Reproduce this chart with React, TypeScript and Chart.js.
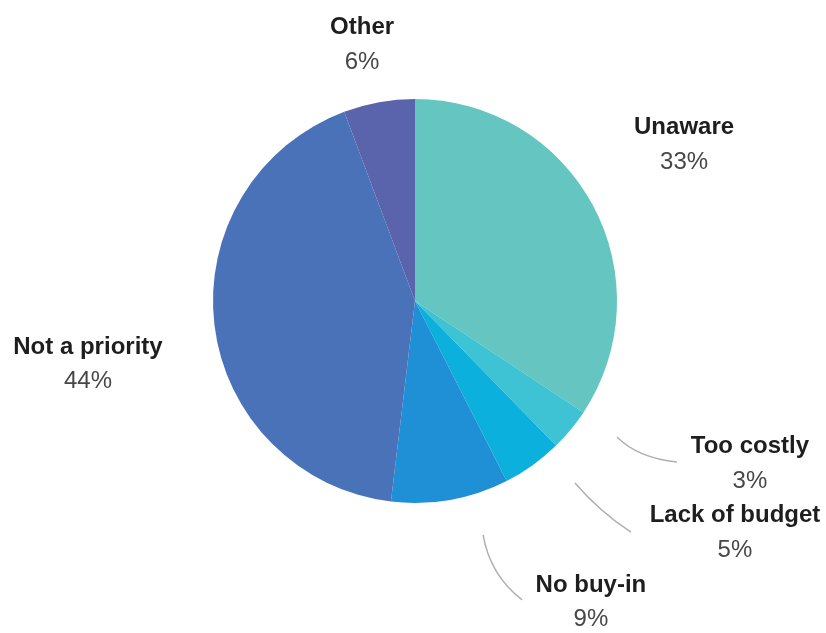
import React, { useEffect, useRef } from "react";
import { Chart, registerables } from "chart.js";

Chart.register(...registerables);

const categories = ["Unaware", "Too costly", "Lack of budget", "No buy-in", "Not a priority", "Other"];
const sliceValues = [34.3, 3.4, 4.8, 9.4, 42.4, 5.7];
const percentLabels = ["33%", "3%", "5%", "9%", "44%", "6%"];
const sliceColors = ["#64c5c1", "#3ec3d4", "#0cb0dc", "#1f8fd6", "#4a72b8", "#5a64ad"];

// label anchor positions in units of the pie radius, relative to the centre
const labelAnchors: [number, number][] = [
  [1.332, -0.859],
  [1.658, 0.72],
  [1.584, 1.062],
  [0.871, 1.406],
  [-1.619, 0.228],
  [-0.262, -1.354],
];
// leader curves (start, control, end) in radius units, null = none
const leaders: ([number, number][] | null)[] = [
  null,
  [[1.0, 0.673], [1.104, 0.777], [1.297, 0.797]],
  [[0.792, 0.901], [0.916, 1.045], [1.069, 1.144]],
  [[0.337, 1.158], [0.371, 1.356], [0.53, 1.48]],
  null,
  null,
];

const labelPlugin = {
  id: "pieLabels",
  afterDraw(chart: any) {
    const meta = chart.getDatasetMeta(0);
    const arc = meta.data[0];
    if (!arc) return;
    const cx = arc.x, cy = arc.y, r = arc.outerRadius;
    const ctx = chart.ctx;
    ctx.save();
    ctx.strokeStyle = "#b0b0b0";
    ctx.lineWidth = 1.5;
    leaders.forEach((l) => {
      if (!l) return;
      ctx.beginPath();
      ctx.moveTo(cx + l[0][0] * r, cy + l[0][1] * r);
      ctx.quadraticCurveTo(cx + l[1][0] * r, cy + l[1][1] * r, cx + l[2][0] * r, cy + l[2][1] * r);
      ctx.stroke();
    });
    ctx.textAlign = "center";
    ctx.textBaseline = "middle";
    categories.forEach((name, i) => {
      const x = cx + labelAnchors[i][0] * r;
      const y = cy + labelAnchors[i][1] * r;
      ctx.font = "bold 24px 'Liberation Sans', Arial, sans-serif";
      ctx.fillStyle = "#1e1e1e";
      ctx.fillText(name, x, y);
      ctx.font = "24px 'Liberation Sans', Arial, sans-serif";
      ctx.fillStyle = "#474747";
      ctx.fillText(percentLabels[i], x, y + 34.5);
    });
    ctx.restore();
  },
};

export default function App() {
  const canvasRef = useRef<HTMLCanvasElement | null>(null);
  useEffect(() => {
    document.body.style.margin = "0";
    const chart = new Chart(canvasRef.current as HTMLCanvasElement, {
      type: "pie",
      data: {
        labels: categories,
        datasets: [
          {
            data: sliceValues,
            backgroundColor: sliceColors,
            borderWidth: 0,
          },
        ],
      },
      options: {
        animation: false,
        responsive: false,
        layout: { padding: { left: 213, right: 209, top: 99, bottom: 130 } },
        plugins: {
          legend: { display: false },
          tooltip: { enabled: false },
        },
      },
      plugins: [labelPlugin],
    });
    return () => chart.destroy();
  }, []);
  return (
    <div style={{ position: "absolute", left: 0, top: 0, width: 826, height: 633, background: "#fff" }}>
      <canvas ref={canvasRef} width={826} height={633} />
    </div>
  );
}
